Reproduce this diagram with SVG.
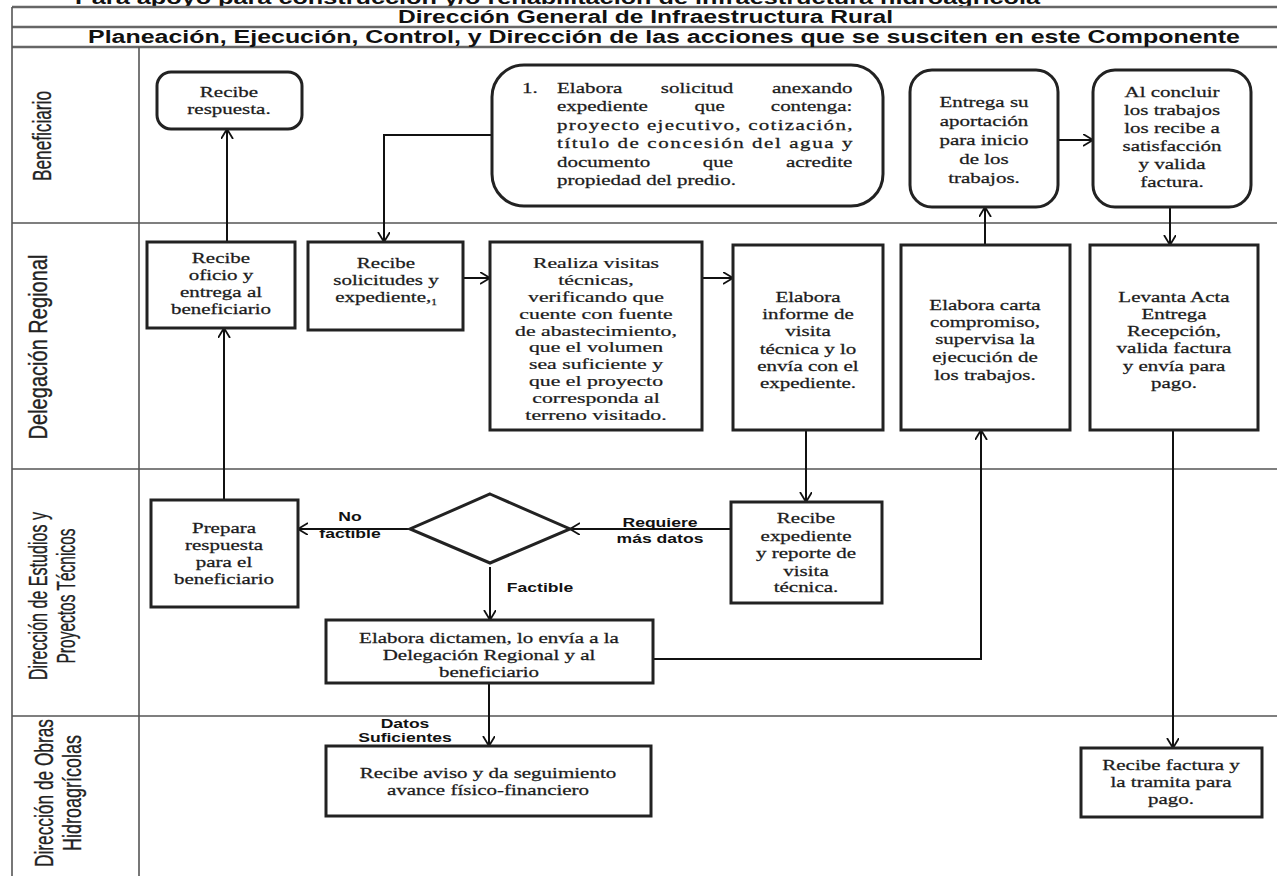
<svg xmlns="http://www.w3.org/2000/svg" width="1277" height="876" viewBox="0 0 1277 876">
<defs>
<marker id="arr" markerUnits="userSpaceOnUse" markerWidth="14" markerHeight="14" refX="10" refY="6" orient="auto">
<path d="M0,0 L10,6 L0,12" fill="none" stroke="#111" stroke-width="1.8"/>
</marker>
<style>
.hdr{font-family:"Liberation Sans",Arial,sans-serif;font-weight:bold;font-size:18px;fill:#111;}
.grid{stroke:#555;stroke-width:1.6;fill:none;}
.hline{stroke:#666;stroke-width:2.6;fill:none;}
.box{fill:#fff;stroke:#222;stroke-width:3;}
.t{font-family:"Liberation Serif","Times New Roman",serif;font-size:15px;fill:#1c1c1c;stroke:#1c1c1c;stroke-width:0.25;text-anchor:middle;}
.tl{font-family:"Liberation Serif","Times New Roman",serif;font-size:15px;fill:#1c1c1c;stroke:#1c1c1c;stroke-width:0.25;}
.lane{font-family:"Liberation Sans",Arial,sans-serif;font-size:17px;fill:#222;stroke:#222;stroke-width:0.2;text-anchor:middle;dominant-baseline:central;}
.lbl{font-family:"Liberation Sans",Arial,sans-serif;font-weight:bold;font-size:13px;fill:#111;text-anchor:middle;}
.con{fill:none;stroke:#111;stroke-width:2;marker-end:url(#arr);}
</style>
</defs>
<rect width="1277" height="876" fill="#fff"/>

<g id="header">
<text class="hdr" x="75" y="4" font-size="17" textLength="965" lengthAdjust="spacingAndGlyphs">Para apoyo para construcción y/o rehabilitación de infraestructura hidroagrícola</text>
<line class="hline" x1="12" y1="7" x2="1277" y2="7"/>
<line class="hline" x1="12" y1="27" x2="1277" y2="27"/>
<line class="hline" x1="12" y1="47" x2="1277" y2="47"/>
<text class="hdr" x="398" y="23" textLength="495" lengthAdjust="spacingAndGlyphs">Dirección General de Infraestructura Rural</text>
<text class="hdr" x="88" y="43" textLength="1152" lengthAdjust="spacingAndGlyphs">Planeación, Ejecución, Control, y Dirección de las acciones que se susciten en este Componente</text>
</g>

<g id="lanes">
<line class="grid" x1="12" y1="7" x2="12" y2="876"/>
<line class="grid" x1="139" y1="47" x2="139" y2="876"/>
<line class="grid" x1="12" y1="223" x2="1277" y2="223"/>
<line class="grid" x1="12" y1="469" x2="1277" y2="469"/>
<line class="grid" x1="12" y1="716" x2="1277" y2="716"/>
<text class="lane" transform="translate(42 136) scale(1.55 1) rotate(-90)" textLength="90" lengthAdjust="spacingAndGlyphs">Beneficiario</text>
<text class="lane" transform="translate(38 347) scale(1.55 1) rotate(-90)" textLength="185" lengthAdjust="spacingAndGlyphs">Delegación Regional</text>
<text class="lane" transform="translate(38 596) scale(1.55 1) rotate(-90)" textLength="168" lengthAdjust="spacingAndGlyphs">Dirección de Estudios y</text>
<text class="lane" transform="translate(66 596) scale(1.55 1) rotate(-90)" textLength="135" lengthAdjust="spacingAndGlyphs">Proyectos Técnicos</text>
<text class="lane" transform="translate(44 793) scale(1.55 1) rotate(-90)" textLength="148" lengthAdjust="spacingAndGlyphs">Dirección de Obras</text>
<text class="lane" transform="translate(72 793) scale(1.55 1) rotate(-90)" textLength="116" lengthAdjust="spacingAndGlyphs">Hidroagrícolas</text>
</g>

<g id="connectors">
<path class="con" d="M227,242 V129"/>
<path class="con" d="M224,500 V328"/>
<path class="con" d="M492,135 H384 V242"/>
<path class="con" d="M463,278 H490"/>
<path class="con" d="M702,278 H733"/>
<path class="con" d="M806,430 V502"/>
<path class="con" d="M731,529 H570"/>
<path class="con" d="M410,529 H298"/>
<path class="con" d="M490,567 V620"/>
<path class="con" d="M653,659 H981 V430"/>
<path class="con" d="M985,245 V207"/>
<path class="con" d="M1058,140 H1093"/>
<path class="con" d="M1170,207 V245"/>
<path class="con" d="M1173,430 V748"/>
<path class="con" d="M489,683 V746"/>
<text class="lbl" transform="translate(350 0) scale(1.35 1)"><tspan x="0" y="521">No</tspan><tspan x="0" y="538">factible</tspan></text>
<text class="lbl" transform="translate(660 0) scale(1.35 1)"><tspan x="0" y="527">Requiere</tspan><tspan x="0" y="543">más datos</tspan></text>
<text class="lbl" transform="translate(540 0) scale(1.35 1)"><tspan x="0" y="592">Factible</tspan></text>
<text class="lbl" transform="translate(405 0) scale(1.35 1)"><tspan x="0" y="728">Datos</tspan><tspan x="0" y="742">Suficientes</tspan></text>
</g>

<g id="n1">
<rect class="box" x="157" y="72" width="145" height="57" rx="14"/>
<text class="t" transform="translate(229 0) scale(1.4 1)"><tspan x="0" y="97">Recibe</tspan><tspan x="0" y="114">respuesta.</tspan></text>
</g>

<g id="n2">
<rect class="box" x="492" y="65" width="391" height="141" rx="32"/>
<g transform="translate(557 0) scale(1.4 1)">
<text class="tl" x="-25" y="93">1.</text>
<text class="tl" x="0" y="93">Elabora</text>
<text class="t" x="100" y="93">solicitud</text>
<text class="tl" x="211" y="93" text-anchor="end">anexando</text>
<text class="tl" x="0" y="111">expediente</text>
<text class="t" x="109" y="111">que</text>
<text class="tl" x="211" y="111" text-anchor="end">contenga:</text>
<text class="tl" x="0" y="130" textLength="211" lengthAdjust="spacing">proyecto ejecutivo, cotización,</text>
<text class="tl" x="0" y="148" textLength="211" lengthAdjust="spacing">título de concesión del agua y</text>
<text class="tl" x="0" y="167">documento</text>
<text class="t" x="115" y="167">que</text>
<text class="tl" x="211" y="167" text-anchor="end">acredite</text>
<text class="tl" x="0" y="185">propiedad del predio.</text>
</g>
</g>

<g id="n3">
<rect class="box" x="910" y="70" width="148" height="137" rx="22"/>
<text class="t" transform="translate(984 0) scale(1.4 1)"><tspan x="0" y="107">Entrega su</tspan><tspan x="0" y="126">aportación</tspan><tspan x="0" y="145">para inicio</tspan><tspan x="0" y="164">de los</tspan><tspan x="0" y="183">trabajos.</tspan></text>
</g>

<g id="n4">
<rect class="box" x="1093" y="70" width="158" height="137" rx="22"/>
<text class="t" transform="translate(1172 0) scale(1.4 1)"><tspan x="0" y="97">Al concluir</tspan><tspan x="0" y="115">los trabajos</tspan><tspan x="0" y="133">los recibe a</tspan><tspan x="0" y="151">satisfacción</tspan><tspan x="0" y="169">y valida</tspan><tspan x="0" y="187">factura.</tspan></text>
</g>

<g id="n5">
<rect class="box" x="147" y="242" width="148" height="86"/>
<text class="t" transform="translate(221 0) scale(1.4 1)"><tspan x="0" y="263">Recibe</tspan><tspan x="0" y="280">oficio y</tspan><tspan x="0" y="297">entrega al</tspan><tspan x="0" y="314">beneficiario</tspan></text>
</g>

<g id="n6">
<rect class="box" x="308" y="242" width="155" height="88"/>
<text class="t" transform="translate(386 0) scale(1.4 1)"><tspan x="0" y="268">Recibe</tspan><tspan x="0" y="285">solicitudes y</tspan><tspan x="0" y="302">expediente,<tspan font-size="8" dy="3">1</tspan></tspan></text>
</g>

<g id="n7">
<rect class="box" x="490" y="242" width="212" height="188"/>
<text class="t" transform="translate(596 0) scale(1.45 1)"><tspan x="0" y="268">Realiza visitas</tspan><tspan x="0" y="285">técnicas,</tspan><tspan x="0" y="302">verificando que</tspan><tspan x="0" y="319">cuente con fuente</tspan><tspan x="0" y="336">de abastecimiento,</tspan><tspan x="0" y="352">que el volumen</tspan><tspan x="0" y="369">sea suficiente y</tspan><tspan x="0" y="386">que el proyecto</tspan><tspan x="0" y="403">corresponda al</tspan><tspan x="0" y="420">terreno visitado.</tspan></text>
</g>

<g id="n8">
<rect class="box" x="733" y="245" width="150" height="185"/>
<text class="t" transform="translate(808 0) scale(1.4 1)"><tspan x="0" y="302">Elabora</tspan><tspan x="0" y="319">informe de</tspan><tspan x="0" y="336">visita</tspan><tspan x="0" y="354">técnica y lo</tspan><tspan x="0" y="371">envía con el</tspan><tspan x="0" y="388">expediente.</tspan></text>
</g>

<g id="n9">
<rect class="box" x="901" y="245" width="169" height="185"/>
<text class="t" transform="translate(985 0) scale(1.4 1)"><tspan x="0" y="310">Elabora carta</tspan><tspan x="0" y="327">compromiso,</tspan><tspan x="0" y="344">supervisa la</tspan><tspan x="0" y="362">ejecución de</tspan><tspan x="0" y="380">los trabajos.</tspan></text>
</g>

<g id="n10">
<rect class="box" x="1090" y="245" width="168" height="185"/>
<text class="t" transform="translate(1174 0) scale(1.4 1)"><tspan x="0" y="302">Levanta Acta</tspan><tspan x="0" y="319">Entrega</tspan><tspan x="0" y="336">Recepción,</tspan><tspan x="0" y="353">valida factura</tspan><tspan x="0" y="371">y envía para</tspan><tspan x="0" y="388">pago.</tspan></text>
</g>

<g id="n11">
<rect class="box" x="151" y="500" width="147" height="107"/>
<text class="t" transform="translate(224 0) scale(1.4 1)"><tspan x="0" y="533">Prepara</tspan><tspan x="0" y="550">respuesta</tspan><tspan x="0" y="567">para el</tspan><tspan x="0" y="584">beneficiario</tspan></text>
</g>

<g id="n12">
<polygon class="box" points="490,494 570,529 490,563 410,529" stroke-width="2.6"/>
</g>

<g id="n13">
<rect class="box" x="731" y="502" width="151" height="101"/>
<text class="t" transform="translate(806 0) scale(1.4 1)"><tspan x="0" y="523">Recibe</tspan><tspan x="0" y="541">expediente</tspan><tspan x="0" y="558">y reporte de</tspan><tspan x="0" y="576">visita</tspan><tspan x="0" y="592">técnica.</tspan></text>
</g>

<g id="n14">
<rect class="box" x="326" y="620" width="327" height="63"/>
<text class="t" transform="translate(489 0) scale(1.4 1)"><tspan x="0" y="643">Elabora dictamen, lo envía a la</tspan><tspan x="0" y="660">Delegación Regional y al</tspan><tspan x="0" y="677">beneficiario</tspan></text>
</g>

<g id="n15">
<rect class="box" x="326" y="746" width="325" height="70"/>
<text class="t" transform="translate(488 0) scale(1.4 1)"><tspan x="0" y="778">Recibe aviso y da seguimiento</tspan><tspan x="0" y="795">avance físico-financiero</tspan></text>
</g>

<g id="n16">
<rect class="box" x="1081" y="748" width="181" height="69"/>
<text class="t" transform="translate(1171 0) scale(1.4 1)"><tspan x="0" y="770">Recibe factura y</tspan><tspan x="0" y="787">la tramita para</tspan><tspan x="0" y="804">pago.</tspan></text>
</g>
</svg>
